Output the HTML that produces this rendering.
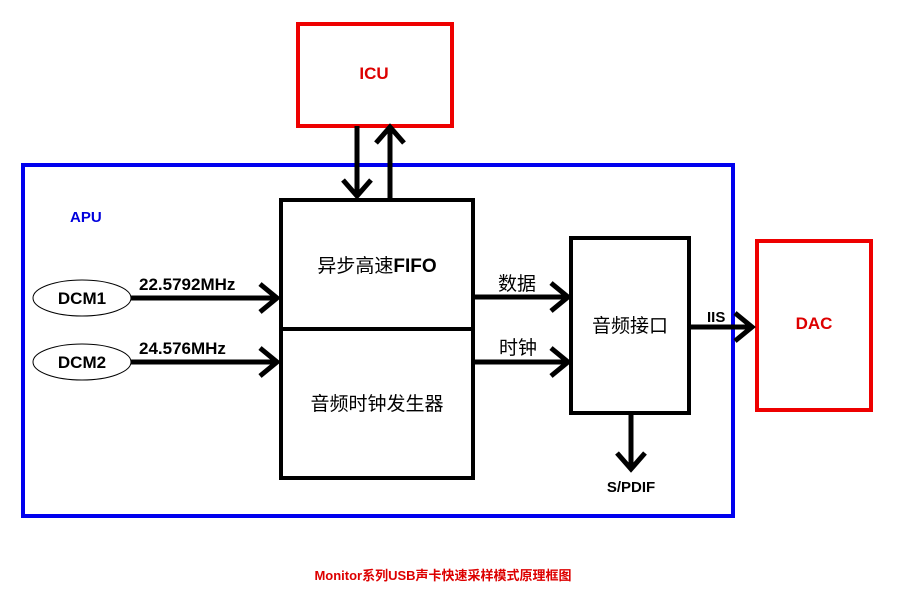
<!DOCTYPE html>
<html><head><meta charset="utf-8"><style>
html,body{margin:0;padding:0;background:#fff;}
svg{display:block;}
text{font-family:"Liberation Sans","Noto Sans CJK SC",sans-serif;}
</style></head><body>
<svg width="899" height="609" viewBox="0 0 899 609" xmlns="http://www.w3.org/2000/svg">
<rect width="899" height="609" fill="#fff"/>
<rect x="23" y="165" width="710" height="351" fill="none" stroke="#0000ee" stroke-width="4"/>
<text x="70" y="222" font-size="15" font-weight="bold" fill="#0000dd">APU</text>
<rect x="298" y="24" width="154" height="102" fill="none" stroke="#ee0000" stroke-width="4"/>
<text x="374" y="79" font-size="17" font-weight="bold" fill="#dd0000" text-anchor="middle">ICU</text>
<rect x="757" y="241" width="114" height="169" fill="none" stroke="#ee0000" stroke-width="4"/>
<text x="814" y="329" font-size="17" font-weight="bold" fill="#dd0000" text-anchor="middle">DAC</text>
<g stroke="#000" fill="none">
<rect x="281" y="200" width="192" height="278" stroke-width="4"/>
<line x1="281" y1="329" x2="473" y2="329" stroke-width="4"/>
<rect x="571" y="238" width="118" height="175" stroke-width="4"/>
<ellipse cx="82" cy="298" rx="49" ry="18" stroke-width="1"/>
<ellipse cx="82" cy="362" rx="49" ry="18" stroke-width="1"/>
<g stroke-width="5">
<line x1="131" y1="298" x2="278" y2="298"/>
<line x1="131" y1="362" x2="278" y2="362"/>
<line x1="357" y1="126" x2="357" y2="197"/>
<line x1="390" y1="129" x2="390" y2="200"/>
<line x1="473" y1="297" x2="568" y2="297"/>
<line x1="473" y1="362" x2="568" y2="362"/>
<line x1="689" y1="327" x2="752" y2="327"/>
<line x1="631" y1="413" x2="631" y2="469"/>
</g>
<g stroke-width="5" stroke-linejoin="miter">
<polyline points="260,284 277,298 260,312"/>
<polyline points="260,348 277,362 260,376"/>
<polyline points="343,180 357,196 371,180"/>
<polyline points="376,143 390,127 404,143"/>
<polyline points="551,283 568,297 551,311"/>
<polyline points="551,348 568,362 551,376"/>
<polyline points="735,313 752,327 735,341"/>
<polyline points="617,453 631,469 645,453"/>
</g>
</g>
<g font-weight="bold" font-size="17" fill="#000">
<text x="82" y="304" text-anchor="middle">DCM1</text>
<text x="82" y="368" text-anchor="middle">DCM2</text>
<text x="139" y="290">22.5792MHz</text>
<text x="139" y="354">24.576MHz</text>
<text x="707" y="322" font-size="15">IIS</text>
<text x="631" y="492" text-anchor="middle" font-size="15">S/PDIF</text>
</g>
<g font-size="19" fill="#000">
<text x="377" y="272" text-anchor="middle">异步高速<tspan font-weight="bold">FIFO</tspan></text>
<text x="377" y="410" text-anchor="middle">音频时钟发生器</text>
<text x="630" y="332" text-anchor="middle">音频接口</text>
<text x="498" y="290">数据</text>
<text x="499" y="354">时钟</text>
</g>
<text x="443" y="580" text-anchor="middle" font-size="13" font-weight="bold" fill="#dd0000">Monitor系列USB声卡快速采样模式原理框图</text>
</svg>
</body></html>
